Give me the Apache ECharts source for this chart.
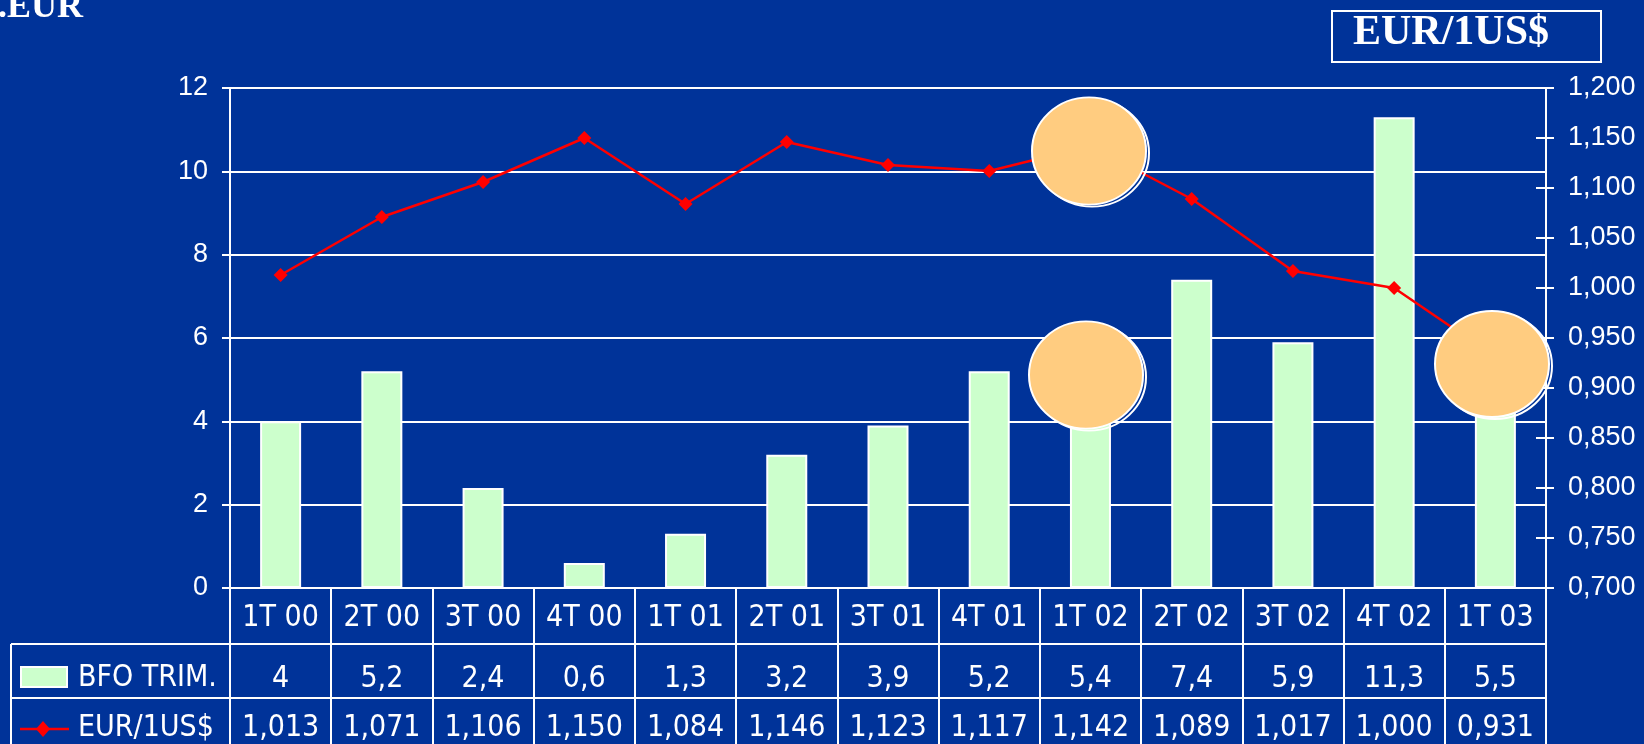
<!DOCTYPE html>
<html>
<head>
<meta charset="utf-8">
<script src="https://cdn.jsdelivr.net/npm/echarts@6/dist/echarts.min.js"></script>
<style>
html,body{margin:0;padding:0;background:#003399;}
#c{width:1644px;height:744px;}
</style>
</head>
<body>
<div id="c"></div>
<script>
const categories = ['1T 00','2T 00','3T 00','4T 00','1T 01','2T 01','3T 01','4T 01','1T 02','2T 02','3T 02','4T 02','1T 03'];
const bfoTrim = [4, 5.2, 2.4, 0.6, 1.3, 3.2, 3.9, 5.2, 5.4, 7.4, 5.9, 11.3, 5.5];
const eurUsd = [1.013, 1.071, 1.106, 1.150, 1.084, 1.146, 1.123, 1.117, 1.142, 1.089, 1.017, 1.000, 0.931];
const bfoName = 'BFO TRIM.';
const eurName = 'EUR/1US$';
const titleLeft = '.EUR';
const titleRight = 'EUR/1US$';

const BG = '#003399';
const BAR_C = '#CCFFCC';
const LINE_C = '#FF0000';
const NARROW = '"DejaVu Sans Condensed", "Liberation Sans Narrow", sans-serif';
const SANS = '"Liberation Sans", Arial, sans-serif';
const SERIF = '"Liberation Serif", "Times New Roman", serif';
const TFS = 30;

const G = {left: 230, right: 98, top: 88, bottom: 156};
const W = 1644, H = 744;
const xR = W - G.right;

function dec(v, d){ return (d == null ? String(v) : v.toFixed(d)).replace('.', ','); }

const chart = echarts.init(document.getElementById('c'), null, {renderer: 'canvas'});

const tableAxis = (offset, labels) => ({
  type: 'category', data: categories, position: 'bottom', offset: offset,
  axisLine: {show: false}, axisTick: {show: false},
  axisLabel: {interval: 0, margin: 30, verticalAlign: 'middle', color: '#fff', fontFamily: NARROW, fontSize: TFS,
    formatter: (v, i) => labels[i]}
});

function circleDeco(cx, cy, r, sy){
  return [
    {type: 'circle', x: cx + 3, y: cy + 2, scaleY: sy, z: 100, shape: {cx: 0, cy: 0, r: r},
     style: {fill: 'none', stroke: '#ffffff', lineWidth: 2}},
    {type: 'circle', x: cx, y: cy, scaleY: sy, z: 101, shape: {cx: 0, cy: 0, r: r},
     style: {fill: '#FFCC80', stroke: '#ffffff', lineWidth: 2}}
  ];
}

const option = {
  backgroundColor: BG,
  animation: false,
  grid: {left: G.left, right: G.right, top: G.top, bottom: G.bottom, containLabel: false},
  xAxis: [
    {
      type: 'category', data: categories, position: 'bottom',
      axisLine: {show: true, lineStyle: {color: '#fff', width: 2}},
      axisTick: {show: true, interval: 0, length: 160, lineStyle: {color: '#fff', width: 2}},
      axisLabel: {interval: 0, margin: 30, verticalAlign: 'middle', color: '#fff', fontFamily: NARROW, fontSize: TFS}
    },
    tableAxis(61, bfoTrim.map(v => dec(v))),
    tableAxis(110, eurUsd.map(v => dec(v, 3)))
  ],
  yAxis: [
    {
      type: 'value', min: 0, max: 12, interval: 2, position: 'left',
      axisLine: {show: true, lineStyle: {color: '#fff', width: 2}},
      axisTick: {show: true, length: 8, lineStyle: {color: '#fff', width: 2}},
      splitLine: {show: true, lineStyle: {color: '#fff', width: 2}},
      axisLabel: {color: '#fff', fontFamily: SANS, fontSize: 27, margin: 22}
    },
    {
      type: 'value', min: 0.7, max: 1.2, interval: 0.05, position: 'right',
      axisLine: {show: true, lineStyle: {color: '#fff', width: 2}},
      axisTick: {show: true, length: 8, lineStyle: {color: '#fff', width: 2}},
      splitLine: {show: false},
      axisLabel: {color: '#fff', fontFamily: SANS, fontSize: 27, margin: 22, formatter: v => dec(v, 3)}
    },
    {
      type: 'value', min: 0.7, max: 1.2, interval: 0.05, position: 'right',
      axisLine: {show: false},
      axisTick: {show: true, inside: true, length: 10, lineStyle: {color: '#fff', width: 2}},
      splitLine: {show: false},
      axisLabel: {show: false}
    }
  ],
  series: [
    {
      name: bfoName, type: 'bar', xAxisIndex: 0, yAxisIndex: 0, data: bfoTrim, barWidth: 41,
      itemStyle: {color: BAR_C, borderColor: '#ffffff', borderWidth: 2}, z: 2
    },
    {
      name: eurName, type: 'line', xAxisIndex: 0, yAxisIndex: 1, data: eurUsd,
      symbol: 'diamond', symbolSize: 14,
      lineStyle: {color: LINE_C, width: 2.5}, itemStyle: {color: LINE_C}, z: 3
    }
  ],
  graphic: [
    {type: 'text', x: -2, y: 8, z: 50, style: {text: titleLeft, font: 'bold 36px ' + SERIF, fill: '#fff', verticalAlign: 'middle', align: 'left'}},
    {type: 'rect', z: 50, shape: {x: 1332, y: 11, width: 269, height: 51}, style: {fill: 'none', stroke: '#fff', lineWidth: 2}},
    {type: 'text', x: 1451, y: 33, z: 50, style: {text: titleRight, font: 'bold 42px ' + SERIF, fill: '#fff', verticalAlign: 'middle', align: 'center'}},
    // table frame
    {type: 'line', z: 50, shape: {x1: 11, y1: 644, x2: xR, y2: 644}, style: {stroke: '#fff', lineWidth: 2}},
    {type: 'line', z: 50, shape: {x1: 11, y1: 698, x2: xR, y2: 698}, style: {stroke: '#fff', lineWidth: 2}},
    {type: 'line', z: 50, shape: {x1: 11, y1: 644, x2: 11, y2: H + 2}, style: {stroke: '#fff', lineWidth: 2}},
    // legend keys inside the table
    {type: 'rect', z: 50, shape: {x: 21, y: 667, width: 46, height: 20}, style: {fill: BAR_C, stroke: '#fff', lineWidth: 2}},
    {type: 'text', x: 78, y: 678, z: 50, style: {text: bfoName, font: TFS + 'px ' + NARROW, fill: '#fff', verticalAlign: 'middle', align: 'left'}},
    {type: 'line', z: 50, shape: {x1: 20, y1: 729, x2: 69, y2: 729}, style: {stroke: LINE_C, lineWidth: 2.5}},
    {type: 'polygon', z: 51, shape: {points: [[43, 721], [50, 729], [43, 737], [36, 729]]}, style: {fill: LINE_C}},
    {type: 'text', x: 78, y: 728, z: 50, style: {text: eurName, font: TFS + 'px ' + NARROW, fill: '#fff', verticalAlign: 'middle', align: 'left'}},
    ...circleDeco(1089, 151, 57, 0.94),
    ...circleDeco(1086, 375, 57, 0.94),
    ...circleDeco(1492, 364, 57, 0.93)
  ]
};
chart.setOption(option);
</script>
</body>
</html>
